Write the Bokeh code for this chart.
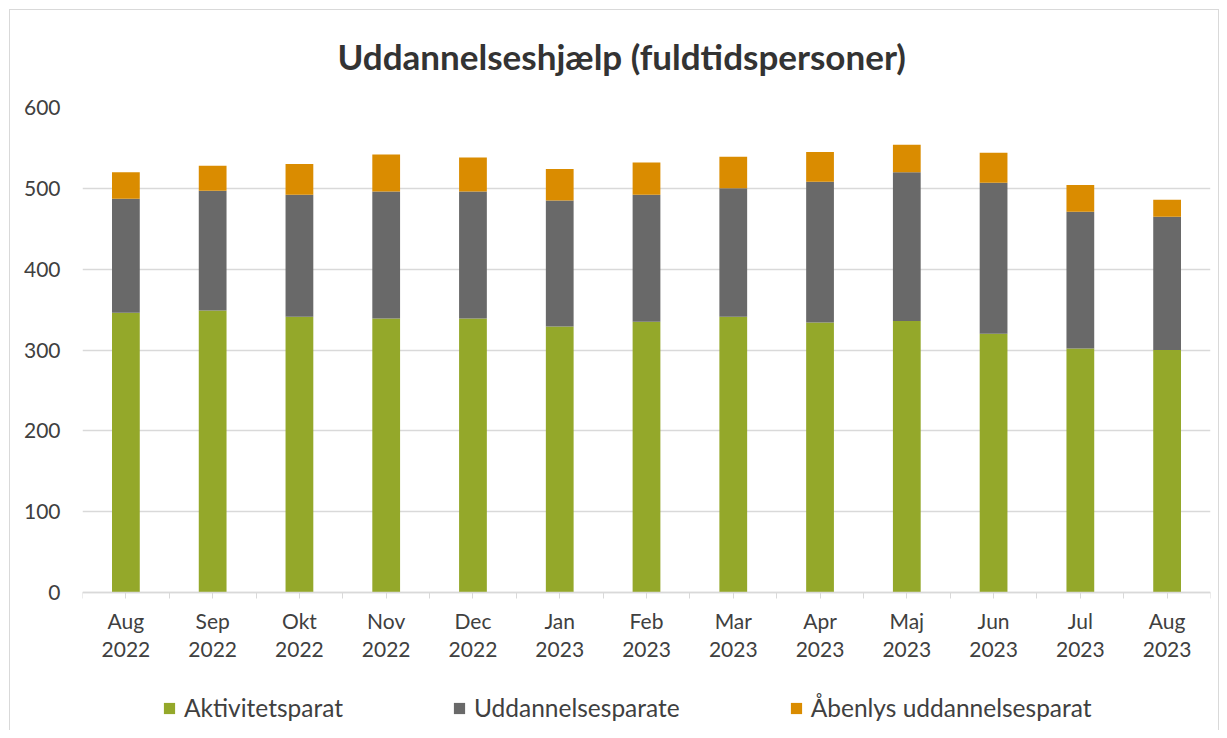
from bokeh.plotting import figure
from bokeh.models import FixedTicker, Legend, LegendItem, ColumnDataSource
from bokeh.embed import file_html
from bokeh.resources import INLINE

months = ["Aug\n2022", "Sep\n2022", "Okt\n2022", "Nov\n2022", "Dec\n2022", "Jan\n2023",
          "Feb\n2023", "Mar\n2023", "Apr\n2023", "Maj\n2023", "Jun\n2023", "Jul\n2023", "Aug\n2023"]
aktivitetsparat = [346, 349, 341, 339, 339, 329, 335, 341, 334, 336, 320, 302, 300]
uddannelsesparate = [141, 148, 151, 157, 157, 156, 157, 159, 174, 184, 187, 169, 165]
aabenlys = [33, 31, 38, 46, 42, 39, 40, 39, 37, 34, 37, 33, 21]
series_names = ["Aktivitetsparat", "Uddannelsesparate", "Åbenlys uddannelsesparat"]
colors = ["#94A82A", "#696969", "#DA8C00"]
y_ticks = [0, 100, 200, 300, 400, 500, 600]

FONT = "Lato"
TXT = "#404040"

# frame spans from 600 at top down to the figure bottom (room for labels + legend)
Y_TOP = 600
Y_BOTTOM = -Y_TOP * 138 / 485

xs = list(range(1, len(months) + 1))
src = ColumnDataSource(dict(x=xs, a=aktivitetsparat, u=uddannelsesparate, o=aabenlys))

p = figure(frame_width=1128, frame_height=623, output_backend="svg", toolbar_location=None,
           x_range=(0.5, len(months) + 0.5), y_range=(Y_BOTTOM, Y_TOP),
           min_border_left=82, min_border_right=9, min_border_top=107, min_border_bottom=0)

renderers = p.vbar_stack(["a", "u", "o"], x="x", width=0.32, source=src,
                         color=colors, line_width=0)

p.title.text = "Uddannelseshjælp (fuldtidspersoner)"
p.title.align = "left"
p.title.text_font = FONT
p.title.text_font_size = "35px"
p.title.text_font_style = "bold"
p.title.text_color = "#333333"
p.title.standoff = 62
p.title.offset = 255

p.outline_line_color = None
p.background_fill_color = "white"
p.border_fill_alpha = 0

# y axis
p.yaxis.ticker = FixedTicker(ticks=y_ticks)
p.yaxis.axis_line_color = None
p.yaxis.major_tick_line_color = None
p.yaxis.minor_tick_line_color = None
p.yaxis.major_label_text_font = FONT
p.yaxis.major_label_text_font_size = "21px"
p.yaxis.major_label_text_color = TXT
p.yaxis.major_label_standoff = 16

# x axis, drawn at y = 0 inside the frame
p.xaxis.fixed_location = 0
p.xaxis.ticker = FixedTicker(ticks=xs, minor_ticks=[i + 0.5 for i in range(0, len(months) + 1)])
p.xaxis.major_label_overrides = {x: m for x, m in zip(xs, months)}
p.xaxis.axis_line_color = "#d9d9d9"
p.xaxis.axis_line_width = 1.5
p.xaxis.major_tick_line_color = "#d9d9d9"
p.xaxis.minor_tick_line_color = "#d9d9d9"
p.xaxis.major_tick_in = 0
p.xaxis.major_tick_out = 6
p.xaxis.minor_tick_in = 0
p.xaxis.minor_tick_out = 6
p.xaxis.major_label_text_font = FONT
p.xaxis.major_label_text_font_size = "21px"
p.xaxis.major_label_text_color = TXT
p.xaxis.major_label_text_line_height = 1.12
p.xaxis.major_label_standoff = 9

p.xgrid.grid_line_color = None
p.ygrid.grid_line_color = "#d9d9d9"
p.ygrid.grid_line_width = 1.3

legend = Legend(items=[LegendItem(label=n, renderers=[r]) for n, r in zip(series_names, renderers)],
                orientation="horizontal", location=(80, 8),
                label_text_font=FONT, label_text_font_size="24.5px", label_text_color=TXT,
                glyph_width=14, glyph_height=14, label_standoff=8, spacing=109,
                border_line_color=None, background_fill_alpha=0, margin=0, padding=0)
p.add_layout(legend, "center")

p.styles = {
    "background-color": "white",
    "background-image": ("linear-gradient(#d9d9d9,#d9d9d9), linear-gradient(#d9d9d9,#d9d9d9), "
                         "linear-gradient(#d9d9d9,#d9d9d9)"),
    "background-size": "1px 100%, 1210px 1px, 1px 100%",
    "background-position": "9px 9px, 9px 9px, 1218px 9px",
    "background-repeat": "no-repeat",
}

open("out.html", "w").write(file_html(p, INLINE))
